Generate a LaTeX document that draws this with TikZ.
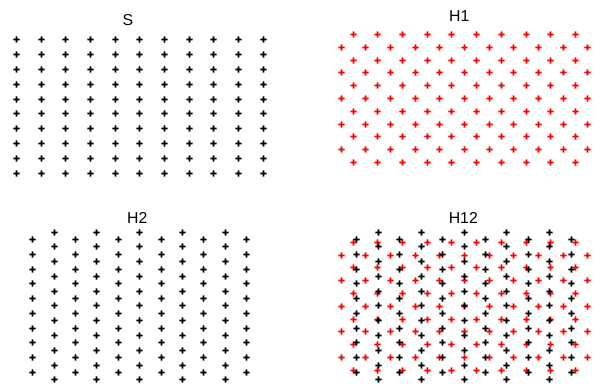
\documentclass[tikz,border=0pt]{standalone}
\usepackage{fontspec}
\setmainfont{Liberation Sans}
\newcommand\plmark[3]{%
  \pgfmathsetmacro\mkx{round(#2)+0.5}%
  \pgfmathsetmacro\mky{round(#3)+0.5}%
  \fill[#1] ({\mkx-3.2},{\mky-0.8}) rectangle ({\mkx+3.2},{\mky+0.8})
            ({\mkx-0.8},{\mky-3.2}) rectangle ({\mkx+0.8},{\mky+3.2});}
\begin{document}
\begin{tikzpicture}[x=1pt,y=-1pt,
  redmk/.style={fill=red},
  blkmk/.style={fill=black},
  ttl/.style={font=\fontsize{15.8}{18}\selectfont, inner sep=0pt, anchor=center}]
\useasboundingbox (0,0) rectangle (597,383);

% ---- S ----
\node[ttl] (tS) at (128,20) {S};
\foreach \i in {0,...,9} { \foreach \j in {0,...,10} {
  \plmark{blkmk}{16+\j*24.67}{39.3+\i*14.8} } }

% ---- H1 ----
\node[ttl] (tH1) at (459.3,16) {H1};
\foreach \i in {0,2,...,10} { \foreach \j in {0,...,9} {
  \plmark{redmk}{352.7+\j*24.7}{34+\i*12.8} } }
\foreach \i in {1,3,...,9} { \foreach \j in {0,...,10} {
  \plmark{redmk}{340.7+\j*24.66}{34+\i*12.8} } }

% ---- H2 ----
\node[ttl] (tH2) at (137.3,217.7) {H2};
\foreach \k in {0,2,...,10} { \foreach \r in {0,...,9} {
  \plmark{blkmk}{32.3+\k*21.37}{239+\r*14.78} } }
\foreach \k in {1,3,...,9} { \foreach \r in {0,...,10} {
  \plmark{blkmk}{32.3+\k*21.37}{231.7+\r*14.76} } }

% ---- H12 ----
\node[ttl] (tH12) at (463.3,217.7) {H12};
\foreach \i in {0,2,...,10} { \foreach \j in {0,...,9} {
  \plmark{redmk}{352.7+\j*24.7}{241.7+\i*12.8} } }
\foreach \i in {1,3,...,9} { \foreach \j in {0,...,10} {
  \plmark{redmk}{340.7+\j*24.66}{241.7+\i*12.8} } }
\foreach \k in {0,2,...,10} { \foreach \r in {0,...,9} {
  \plmark{blkmk}{356.3+\k*21.44}{239+\r*14.78} } }
\foreach \k in {1,3,...,9} { \foreach \r in {0,...,10} {
  \plmark{blkmk}{356.3+\k*21.44}{231.7+\r*14.76} } }
\end{tikzpicture}
\end{document}
